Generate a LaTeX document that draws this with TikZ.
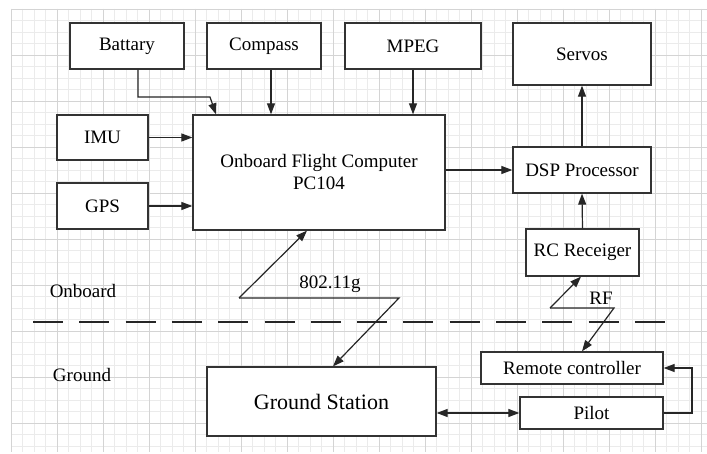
\documentclass[tikz,border=0pt]{standalone}
\usepackage{fontspec}
\setmainfont{Liberation Serif}
\newfontfamily\diagfont{Liberation Serif}
\usetikzlibrary{arrows.meta}
\tikzset{
  box/.style={draw=black!80, line width=1.3pt, fill=white, inner sep=0pt, font=\diagfont\fontsize{19}{22}\selectfont, align=center},
  conn/.style={draw=black!85, line width=1.2pt},
  arr/.style={conn, -{Triangle[length=11pt,width=8pt]}},
  darr/.style={conn, {Triangle[length=11pt,width=8pt]}-{Triangle[length=11pt,width=8pt]}},
  lbl/.style={font=\diagfont\fontsize{19}{22}\selectfont, inner sep=0pt},
  minorgrid/.style={draw=black!8, line width=0.5pt},
  majorgrid/.style={draw=black!17, line width=0.7pt}
}
\begin{document}
\begin{tikzpicture}[x=1pt,y=-1pt]
\useasboundingbox (0,0) rectangle (707,454);
\fill[white] (0,0) rectangle (707,454);
% grid
\foreach \i in {0,...,60} {
  \pgfmathsetmacro{\gx}{11+\i*11.5}
  \ifdim \gx pt<707pt
    \draw[minorgrid] (\gx,9) -- (\gx,452);
  \fi
}
\foreach \i in {0,...,38} {
  \pgfmathsetmacro{\gy}{9+\i*11.5}
  \ifdim \gy pt<453pt
    \draw[minorgrid] (11,\gy) -- (707,\gy);
  \fi
}
\foreach \i in {0,...,15} {
  \pgfmathsetmacro{\gx}{11+\i*46}
  \draw[majorgrid] (\gx,9) -- (\gx,452);
}
\foreach \i in {0,...,9} {
  \pgfmathsetmacro{\gy}{9+\i*46}
  \draw[majorgrid] (11,\gy) -- (707,\gy);
}
% boxes
\node[box, minimum width=114pt, minimum height=46pt] (bat) at (127,46) {Battary};
\node[box, minimum width=114pt, minimum height=46pt] (com) at (264,46) {Compass};
\node[box, minimum width=136pt, minimum height=46pt] (mpeg) at (413,46) {MPEG};
\node[box, minimum width=138pt, minimum height=62pt] (servo) at (582,54) {Servos};
\node[box, minimum width=91pt, minimum height=45pt] (imu) at (102.5,137.5) {IMU};
\node[box, minimum width=91pt, minimum height=46pt] (gps) at (102.5,206) {GPS};
\node[box, minimum width=252pt, minimum height=115pt] (ofc) at (319,172.5) {Onboard Flight Computer\\PC104};
\node[box, minimum width=138pt, minimum height=46pt] (dsp) at (582,170) {DSP Processor};
\node[box, minimum width=113pt, minimum height=47pt] (rc) at (582.5,252.5) {RC Receiger};
\node[box, minimum width=182pt, minimum height=32pt] (remote) at (572,368) {Remote controller};
\node[box, minimum width=143pt, minimum height=32pt] (pilot) at (591.5,413) {Pilot};
\node[box, minimum width=229pt, minimum height=69pt, font=\diagfont\fontsize{22}{26}\selectfont] (gs) at (321.5,401.5) {Ground Station};
% labels
\node[lbl] (onb) at (83,291) {Onboard};
\node[lbl] (gnd) at (82,375) {Ground};
\node[lbl] (wifi) at (330,284) {802.11g};
\node[lbl] (rf) at (601,298) {RF};
% dashed separator
\coordinate (dl) at (33,322);
\coordinate (dr) at (667,322);
\draw[conn, dash pattern=on 30pt off 16.3pt] (dl) -- (dr);
% connectors
\coordinate (bA) at (138,97);
\coordinate (bB) at (210,97);
\draw[arr] ([xshift=11pt]bat.south) -- (bA) -- (bB) -- (ofc.north -| 216,0);
\draw[arr] ([xshift=7pt]com.south) -- ([xshift=7pt]com.south |- ofc.north);
\draw[arr] (mpeg.south) -- (mpeg.south |- ofc.north);
\draw[arr] (imu.east) -- (imu.east -| ofc.west);
\draw[arr] (gps.east) -- (gps.east -| ofc.west);
\draw[arr] (ofc.east |- dsp.west) -- (dsp.west);
\draw[arr] (dsp.north) -- (servo.south);
\draw[arr] (rc.north) -- (dsp.south);
% 802.11g zigzag
\coordinate (w1) at (239,298);
\coordinate (w2) at (399,298);
\draw[arr] (w1) -- (ofc.south -| 307,0);
\draw[arr] (w1) -- (w2) -- (gs.north -| 333,0);
% RF zigzag
\coordinate (r1) at (550,308);
\coordinate (r2) at (614,308);
\draw[arr] (r1) -- (rc.south -| 581,0);
\draw[arr] (r1) -- (r2) -- (remote.north -| 582,0);
% ground links
\draw[darr] (gs.east |- pilot.west) -- (pilot.west);
\coordinate (p1) at (692,413);
\coordinate (p2) at (692,368);
\draw[arr] (pilot.east) -- (p1) -- (p2) -- (remote.east);
\end{tikzpicture}
\end{document}
